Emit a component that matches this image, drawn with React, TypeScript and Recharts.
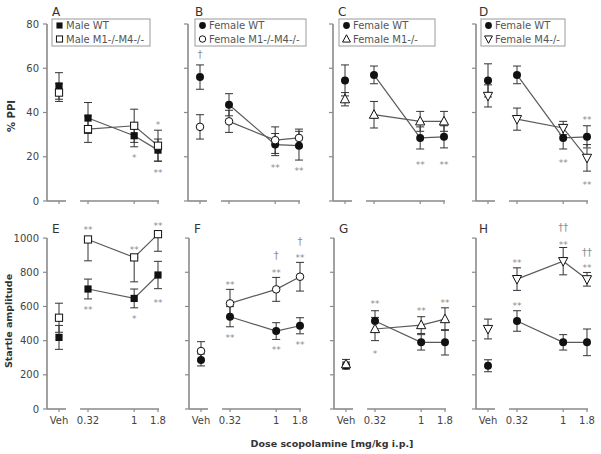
import React from 'react';
import { ComposedChart, Scatter, XAxis, YAxis, ErrorBar, ReferenceLine } from 'recharts';

const FONT = '"DejaVu Sans", Verdana, sans-serif';
const AXIS = '#8a8a8a';
const INK = '#111';
const NOTE = '#8c8c8c';

// ---- x axis (log dose scale; Veh placed left of the break) ----
const VEH_POS = 0.1564;
const DOSES = [0.32, 1, 1.8];
const X_POSITIONS = [VEH_POS, ...DOSES];
const X_TICK_LABELS = ['Veh', '0.32', '1', '1.8'];
const X_DOMAIN = [0.1163, 1.939];
const VEH_AXIS_END = 0.186;
const DOSE_AXIS = [0.263, 1.845];

const PPI_TICKS = [0, 20, 40, 60, 80];
const STARTLE_TICKS = [0, 200, 400, 600, 800, 1000];

// ---- values: [Veh, 0.32, 1, 1.8] ----
// A  male WT vs male M1-/-M4-/-  (%PPI)
const A_WT = [52, 37.5, 29.5, 23];
const A_WT_ERR = [6, 7, 5, 5];
const A_KO = [49, 32.5, 34, 25];
const A_KO_ERR = [4, 6, 7.5, 7];
// B  female WT vs female M1-/-M4-/-
const B_WT = [56, 43.5, 25.5, 25];
const B_WT_ERR = [5.5, 5, 5, 6.5];
const B_KO = [33.5, 36, 27.5, 28.5];
const B_KO_ERR = [5.5, 5, 6, 4];
// C  female WT vs female M1-/-
const C_WT = [54.5, 57, 28.5, 29];
const C_WT_ERR = [7, 4, 5, 5];
const C_KO = [46, 39, 36, 36];
const C_KO_ERR = [3, 6, 4.5, 4.5];
// D  female WT vs female M4-/-
const D_WT = [54.5, 57, 28.5, 29];
const D_WT_ERR = [7.5, 4, 5, 5];
const D_KO = [47.5, 37, 33, 19.5];
const D_KO_ERR = [5, 5, 3, 6];
// E  startle, male
const E_WT = [419, 702, 647, 784];
const E_WT_ERR = [70, 58, 55, 80];
const E_KO = [534, 992, 887, 1023];
const E_KO_ERR_LOW = [85, 125, 143, 100];
const E_KO_ERR_HIGH = [85, 0, 0, 0];
// F
const F_WT = [287, 540, 456, 487];
const F_WT_ERR = [35, 59, 49, 47];
const F_KO = [339, 618, 700, 774];
const F_KO_ERR = [55, 82, 70, 84];
// G
const G_WT = [255, 515, 390, 390];
const G_WT_ERR = [20, 60, 45, 74];
const G_KO = [262, 468, 491, 526];
const G_KO_ERR = [28, 68, 49, 66];
// H
const H_WT = [253, 515, 390, 390];
const H_WT_ERR = [35, 60, 45, 78];
const H_KO = [468, 760, 865, 759];
const H_KO_ERR = [58, 66, 80, 40];

// significance marks
const A_NOTES = [
  { x: 1, y: 20.5, t: '*' },
  { x: 1.8, y: 35.7, t: '*' },
  { x: 1.8, y: 13.6, t: '**' },
];
const B_NOTES = [
  { x: VEH_POS, y: 66, t: '†' },
  { x: 1, y: 16, t: '**' },
  { x: 1.8, y: 14.5, t: '**' },
];
const C_NOTES = [
  { x: 1, y: 17.6, t: '**' },
  { x: 1.8, y: 17.6, t: '**' },
];
const D_NOTES = [
  { x: 1, y: 18.2, t: '**' },
  { x: 1.8, y: 37.8, t: '**' },
  { x: 1.8, y: 24.4, t: '*' },
  { x: 1.8, y: 8.3, t: '**' },
];
const E_NOTES = [
  { x: 0.32, y: 1064, t: '**' },
  { x: 0.32, y: 591, t: '**' },
  { x: 1, y: 947, t: '**' },
  { x: 1, y: 544, t: '*' },
  { x: 1.8, y: 1088, t: '**' },
  { x: 1.8, y: 637, t: '**' },
];
const F_NOTES = [
  { x: 0.32, y: 741, t: '**' },
  { x: 0.32, y: 429, t: '**' },
  { x: 1, y: 901, t: '†' },
  { x: 1, y: 809, t: '**' },
  { x: 1, y: 358, t: '**' },
  { x: 1.8, y: 978, t: '†' },
  { x: 1.8, y: 901, t: '**' },
  { x: 1.8, y: 388, t: '**' },
];
const G_NOTES = [
  { x: 0.32, y: 627, t: '**' },
  { x: 0.32, y: 339, t: '*' },
  { x: 1, y: 587, t: '**' },
  { x: 1.8, y: 637, t: '**' },
];
const H_NOTES = [
  { x: 0.32, y: 871, t: '**' },
  { x: 0.32, y: 618, t: '**' },
  { x: 1, y: 1063, t: '††' },
  { x: 1, y: 975, t: '**' },
  { x: 1.8, y: 916, t: '††' },
  { x: 1.8, y: 838, t: '**' },
];

type Kind = 'sqFill' | 'sqOpen' | 'circFill' | 'circOpen' | 'triUp' | 'triDown';

function drawMarker(kind: Kind, cx: number, cy: number, s = 1) {
  switch (kind) {
    case 'sqFill':
      return <rect x={cx - 3.6 * s} y={cy - 3.6 * s} width={7.2 * s} height={7.2 * s} fill={INK} />;
    case 'sqOpen':
      return <rect x={cx - 3.6 * s} y={cy - 3.6 * s} width={7.2 * s} height={7.2 * s} fill="#fff" stroke={INK} strokeWidth={1} />;
    case 'circFill':
      return <circle cx={cx} cy={cy} r={4 * s} fill={INK} />;
    case 'circOpen':
      return <circle cx={cx} cy={cy} r={3.8 * s} fill="#fff" stroke={INK} strokeWidth={1} />;
    case 'triUp':
      return (
        <polygon
          points={`${cx},${cy - 5 * s} ${cx - 4.6 * s},${cy + 3.6 * s} ${cx + 4.6 * s},${cy + 3.6 * s}`}
          fill="#fff"
          stroke={INK}
          strokeWidth={1}
        />
      );
    case 'triDown':
      return (
        <polygon
          points={`${cx},${cy + 5 * s} ${cx - 4.6 * s},${cy - 3.6 * s} ${cx + 4.6 * s},${cy - 3.6 * s}`}
          fill="#fff"
          stroke={INK}
          strokeWidth={1}
        />
      );
  }
  return <g />;
}

const rows = (vals: number[], lo: number[], hi?: number[]) =>
  X_POSITIONS.map((x, i) => ({ x, y: vals[i], e: [lo[i], (hi || lo)[i]] }));

type Series = { data: { x: number; y: number; e: number[] }[]; kind: Kind };
type PanelCfg = {
  id: string;
  row: number;
  axisX: number;
  yLabels: boolean;
  series: Series[];
  notes: { x: number; y: number; t: string }[];
};

const ROWS = [
  { top: 0, marginTop: 24, plotH: 177, xH: 20, yDomain: [0, 80], yTicks: PPI_TICKS, yAxisTop: 80, xLabels: false },
  { top: 212, marginTop: 9, plotH: 188, xH: 26, yDomain: [0, 1100], yTicks: STARTLE_TICKS, yAxisTop: 1000, xLabels: true },
];

const PANELS: PanelCfg[] = [
  { id: 'A', row: 0, axisX: 47, yLabels: true, notes: A_NOTES,
    series: [{ data: rows(A_WT, A_WT_ERR), kind: 'sqFill' }, { data: rows(A_KO, A_KO_ERR), kind: 'sqOpen' }] },
  { id: 'B', row: 0, axisX: 188, yLabels: false, notes: B_NOTES,
    series: [{ data: rows(B_WT, B_WT_ERR), kind: 'circFill' }, { data: rows(B_KO, B_KO_ERR), kind: 'circOpen' }] },
  { id: 'C', row: 0, axisX: 333, yLabels: false, notes: C_NOTES,
    series: [{ data: rows(C_WT, C_WT_ERR), kind: 'circFill' }, { data: rows(C_KO, C_KO_ERR), kind: 'triUp' }] },
  { id: 'D', row: 0, axisX: 476, yLabels: false, notes: D_NOTES,
    series: [{ data: rows(D_WT, D_WT_ERR), kind: 'circFill' }, { data: rows(D_KO, D_KO_ERR), kind: 'triDown' }] },
  { id: 'E', row: 1, axisX: 47, yLabels: true, notes: E_NOTES,
    series: [{ data: rows(E_WT, E_WT_ERR), kind: 'sqFill' }, { data: rows(E_KO, E_KO_ERR_LOW, E_KO_ERR_HIGH), kind: 'sqOpen' }] },
  { id: 'F', row: 1, axisX: 189, yLabels: false, notes: F_NOTES,
    series: [{ data: rows(F_WT, F_WT_ERR), kind: 'circFill' }, { data: rows(F_KO, F_KO_ERR), kind: 'circOpen' }] },
  { id: 'G', row: 1, axisX: 334, yLabels: false, notes: G_NOTES,
    series: [{ data: rows(G_WT, G_WT_ERR), kind: 'circFill' }, { data: rows(G_KO, G_KO_ERR), kind: 'triUp' }] },
  { id: 'H', row: 1, axisX: 476, yLabels: false, notes: H_NOTES,
    series: [{ data: rows(H_WT, H_WT_ERR), kind: 'circFill' }, { data: rows(H_KO, H_KO_ERR), kind: 'triDown' }] },
];

const renderNote = (props: any) => {
  const { cx, cy } = props;
  const t: string = (props.payload && props.payload.t) || props.t || '';
  const dagger = t.indexOf('†') >= 0;
  return (
    <text x={cx} y={cy} dy={dagger ? 3.5 : 5.5} textAnchor="middle" fontSize={dagger ? 10 : 9} fill={NOTE} fontFamily={FONT}>
      {t}
    </text>
  );
};

function Panel({ p }: { p: PanelCfg }) {
  const r = ROWS[p.row];
  const yW = p.yLabels ? p.axisX : 8;
  const left = p.axisX - yW;
  const width = yW + 114 + 12;
  const height = r.marginTop + r.plotH + r.xH;
  const tickStyle = { fill: '#444', fontSize: 10, fontFamily: FONT };
  return (
    <div style={{ position: 'absolute', left, top: r.top }}>
      <ComposedChart width={width} height={height} margin={{ top: r.marginTop, right: 12, bottom: 0, left: 0 }}>
        <XAxis
          dataKey="x"
          type="number"
          scale="log"
          domain={X_DOMAIN}
          ticks={X_POSITIONS}
          interval={0}
          axisLine={false}
          tickSize={3}
          tickMargin={5}
          tickLine={{ stroke: AXIS, strokeWidth: 1.2 }}
          height={r.xH}
          tick={tickStyle}
          tickFormatter={(v: number) => {
            if (!r.xLabels) return '';
            const i = X_POSITIONS.indexOf(v);
            return i >= 0 ? X_TICK_LABELS[i] : '';
          }}
        />
        <YAxis
          dataKey="y"
          type="number"
          domain={r.yDomain}
          ticks={r.yTicks}
          interval={0}
          axisLine={false}
          tickSize={4}
          tickMargin={4}
          tickLine={{ stroke: AXIS, strokeWidth: 1.2 }}
          width={yW}
          tick={tickStyle}
          tickFormatter={(v: number) => (p.yLabels ? String(v) : '')}
        />
        <ReferenceLine
          ifOverflow="visible"
          segment={[{ x: X_DOMAIN[0], y: 0 }, { x: X_DOMAIN[0], y: r.yAxisTop }]}
          stroke={AXIS}
          strokeWidth={1.6}
        />
        <ReferenceLine
          ifOverflow="visible"
          segment={[{ x: X_DOMAIN[0], y: 0 }, { x: VEH_AXIS_END, y: 0 }]}
          stroke={AXIS}
          strokeWidth={1.6}
        />
        <ReferenceLine
          ifOverflow="visible"
          segment={[{ x: DOSE_AXIS[0], y: 0 }, { x: DOSE_AXIS[1], y: 0 }]}
          stroke={AXIS}
          strokeWidth={1.6}
        />
        {p.series.map((s, i) => (
          <Scatter
            key={'l' + i}
            data={s.data.slice(1)}
            line={{ stroke: '#5a5a5a', strokeWidth: 1.2 }}
            shape={() => <g />}
            isAnimationActive={false}
            legendType="none"
          />
        ))}
        {p.series.map((s, i) => (
          <Scatter
            key={'m' + i}
            data={s.data}
            shape={(props: any) => drawMarker(s.kind, props.cx, props.cy)}
            isAnimationActive={false}
            legendType="none"
          >
            <ErrorBar dataKey="e" direction="y" width={4} stroke="#333" strokeWidth={1} />
          </Scatter>
        ))}
        <Scatter data={p.notes} shape={renderNote} isAnimationActive={false} legendType="none" />
      </ComposedChart>
    </div>
  );
}

const LEGENDS = [
  { x: 52, w: 98, items: [{ kind: 'sqFill' as Kind, label: 'Male WT' }, { kind: 'sqOpen' as Kind, label: 'Male M1-/-M4-/-' }] },
  { x: 195, w: 111, items: [{ kind: 'circFill' as Kind, label: 'Female WT' }, { kind: 'circOpen' as Kind, label: 'Female M1-/-M4-/-' }] },
  { x: 339, w: 96, items: [{ kind: 'circFill' as Kind, label: 'Female WT' }, { kind: 'triUp' as Kind, label: 'Female M1-/-' }] },
  { x: 481, w: 84, items: [{ kind: 'circFill' as Kind, label: 'Female WT' }, { kind: 'triDown' as Kind, label: 'Female M4-/-' }] },
];

const LETTERS = [
  { t: 'A', x: 52, y: 16 }, { t: 'B', x: 195, y: 16 }, { t: 'C', x: 338, y: 16 }, { t: 'D', x: 479, y: 16 },
  { t: 'E', x: 52, y: 233 }, { t: 'F', x: 194, y: 233 }, { t: 'G', x: 339, y: 233 }, { t: 'H', x: 479, y: 233 },
];

export default function App() {
  return (
    <div style={{ position: 'absolute', left: 0, top: 0, width: 601, height: 454, background: '#fff', overflow: 'hidden' }}>
      {PANELS.map((p) => (
        <Panel key={p.id} p={p} />
      ))}
      <svg width={601} height={454} style={{ position: 'absolute', left: 0, top: 0, pointerEvents: 'none' }}>
        {LETTERS.map((l) => (
          <text key={l.t} x={l.x} y={l.y} fontSize={12} fill="#333" fontFamily={FONT}>
            {l.t}
          </text>
        ))}
        {LEGENDS.map((lg, li) => (
          <g key={li}>
            <rect x={lg.x} y={19} width={lg.w} height={27} fill="#fff" stroke="#9a9a9a" strokeWidth={1} />
            {lg.items.map((it, i) => (
              <g key={i}>
                {drawMarker(it.kind, lg.x + 7.5, 25.5 + i * 13.5, 0.85)}
                <text x={lg.x + 14} y={29 + i * 13.5} fontSize={10} fill="#555" fontFamily={FONT}>
                  {it.label}
                </text>
              </g>
            ))}
          </g>
        ))}
        <text transform="translate(15,116) rotate(-90)" textAnchor="middle" fontSize={10} fontWeight="bold" fill="#333" fontFamily={FONT}>
          % PPI
        </text>
        <text transform="translate(12,321) rotate(-90)" textAnchor="middle" fontSize={9.5} fontWeight="bold" fill="#333" fontFamily={FONT}>
          Startle amplitude
        </text>
        <text x={332} y={447} textAnchor="middle" fontSize={9.5} fontWeight="bold" fill="#333" fontFamily={FONT}>
          Dose scopolamine [mg/kg i.p.]
        </text>
      </svg>
    </div>
  );
}
